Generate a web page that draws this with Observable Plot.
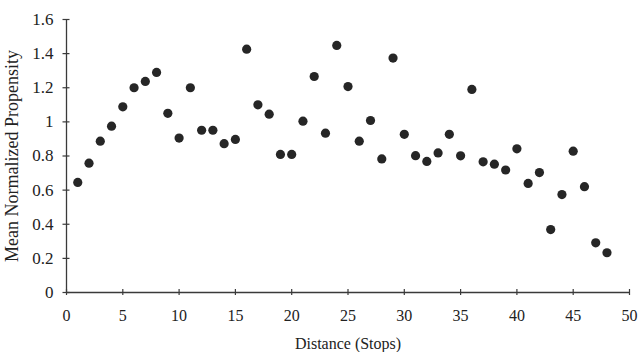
<!DOCTYPE html>
<html>
<head>
<meta charset="utf-8">
<script src="https://cdn.jsdelivr.net/npm/d3@7"></script>
<script src="https://cdn.jsdelivr.net/npm/@observablehq/plot@0.6"></script>
<style>
  html, body { margin: 0; padding: 0; background: #ffffff; }
  #chart svg { display: block; }
</style>
</head>
<body>
<div id="chart"></div>
<script>
const distance = [1,2,3,4,5,6,7,8,9,10,11,12,13,14,15,16,17,18,19,20,21,22,23,24,25,26,27,28,29,30,31,32,33,34,35,36,37,38,39,40,41,42,43,44,45,46,47,48];
const propensity = [0.645,0.758,0.887,0.975,1.088,1.20,1.237,1.29,1.05,0.905,1.20,0.951,0.951,0.872,0.897,1.426,1.10,1.045,0.809,0.809,1.004,1.266,0.934,1.448,1.207,0.887,1.008,0.783,1.374,0.927,0.802,0.768,0.818,0.927,0.801,1.19,0.766,0.752,0.718,0.842,0.639,0.703,0.369,0.574,0.828,0.62,0.291,0.233];
const xTicks = [0,5,10,15,20,25,30,35,40,45,50];
const yTicks = [0,0.2,0.4,0.6,0.8,1,1.2,1.4,1.6];
const xLabel = "Distance (Stops)";
const yLabel = "Mean Normalized Propensity";

const data = distance.map((d, i) => ({distance: d, propensity: propensity[i]}));
const axisColor = "#3a3a3a";

const chart = Plot.plot({
  width: 639,
  height: 352,
  marginLeft: 66,
  marginRight: 10,
  marginTop: 19,
  marginBottom: 60,
  style: {background: "#ffffff", fontFamily: "'Liberation Serif', serif", color: "#222"},
  x: {domain: [0, 50]},
  y: {domain: [0, 1.6]},
  marks: [
    Plot.ruleX([0], {stroke: axisColor, strokeWidth: 1.3}),
    Plot.ruleY([0], {stroke: axisColor, strokeWidth: 1.3}),
    Plot.ruleY(yTicks, {y: d => d, x1: 0, x2: 0, insetLeft: -3.5, insetRight: -3.5, stroke: axisColor, strokeWidth: 1.2}),
    Plot.ruleX(xTicks, {x: d => d, y1: 0, y2: 0, insetTop: -3, insetBottom: -3, stroke: axisColor, strokeWidth: 1.2}),
    Plot.axisY(yTicks, {tickSize: 0, tickPadding: 13, fontSize: 17, label: null, tickFormat: d3.format("")}),
    Plot.axisY([], {tickSize: 0, fontSize: 18, label: yLabel, labelAnchor: "center", labelArrow: "none", labelOffset: 61}),
    Plot.axisX(xTicks, {tickSize: 0, tickPadding: 17, fontSize: 16, label: null}),
    Plot.axisX([], {tickSize: 0, fontSize: 16, label: xLabel, labelAnchor: "center", labelArrow: "none", labelOffset: 56, dx: -4}),
    Plot.dot(data, {x: "distance", y: "propensity", r: 4.6, fill: "#262626", stroke: "none"})
  ]
});
document.getElementById("chart").appendChild(chart);
</script>
</body>
</html>
